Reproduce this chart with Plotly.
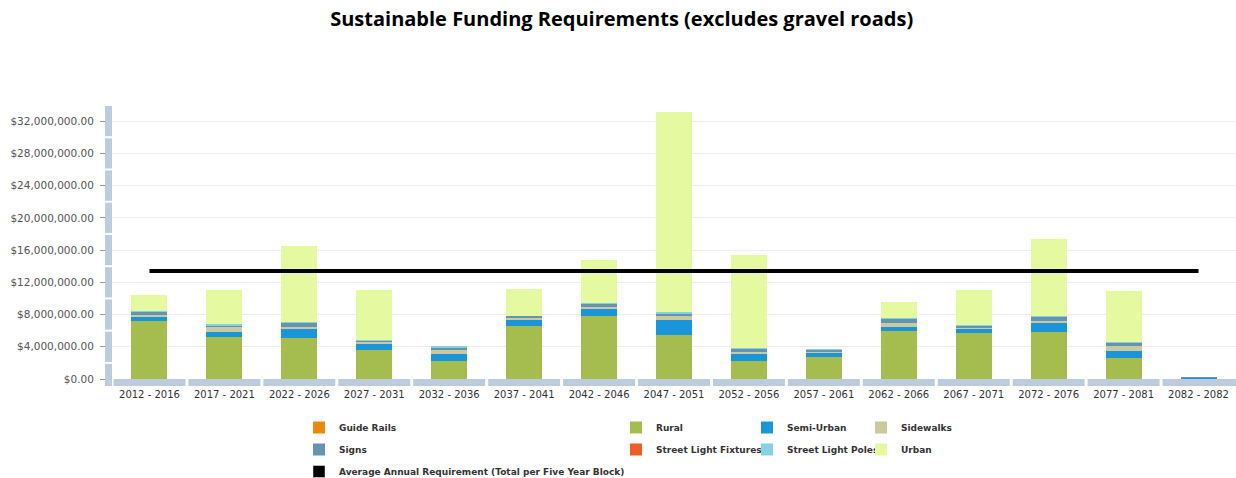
import plotly.graph_objects as go

categories = ["2012 - 2016", "2017 - 2021", "2022 - 2026", "2027 - 2031", "2032 - 2036",
              "2037 - 2041", "2042 - 2046", "2047 - 2051", "2052 - 2056", "2057 - 2061",
              "2062 - 2066", "2067 - 2071", "2072 - 2076", "2077 - 2081", "2082 - 2082"]

# values in millions of dollars
guide_rails = [0.0, 0.0, 0.0, 0.0, 0.0, 0.02, 0.0, 0.0, 0.0, 0.0, 0.02, 0.0, 0.0, 0.0, 0.0]
rural = [7.23, 5.25, 5.04, 3.60, 2.23, 6.50, 7.81, 5.46, 2.27, 2.77, 5.95, 5.66, 5.87, 2.65, 0.0]
semi_urban = [0.58, 0.58, 1.20, 0.83, 0.83, 0.91, 0.91, 1.86, 0.83, 0.50, 0.54, 0.58, 1.16, 0.83, 0.20]
sidewalks = [0.12, 0.66, 0.25, 0.20, 0.50, 0.10, 0.25, 0.62, 0.29, 0.10, 0.50, 0.17, 0.20, 0.62, 0.0]
signs = [0.41, 0.20, 0.50, 0.17, 0.41, 0.30, 0.41, 0.20, 0.41, 0.30, 0.45, 0.20, 0.50, 0.41, 0.02]
light_fixtures = [0.0, 0.0, 0.0, 0.0, 0.0, 0.0, 0.0, 0.04, 0.0, 0.0, 0.0, 0.0, 0.0, 0.0, 0.0]
light_poles = [0.08, 0.08, 0.08, 0.06, 0.03, 0.05, 0.08, 0.08, 0.08, 0.05, 0.10, 0.05, 0.10, 0.08, 0.0]
urban = [2.00, 4.30, 9.40, 6.20, 0.0, 3.35, 5.36, 24.93, 11.54, 0.0, 2.00, 4.35, 9.50, 6.27, 0.0]
average_requirement = [13.4] * len(categories)

series = [
    ("Guide Rails", guide_rails, "#E98A0C", "legend"),
    ("Rural", rural, "#A5BC4E", "legend2"),
    ("Semi-Urban", semi_urban, "#1B95D9", "legend3"),
    ("Sidewalks", sidewalks, "#CACA9E", "legend4"),
    ("Signs", signs, "#6693B0", "legend"),
    ("Street Light Fixtures", light_fixtures, "#F05E27", "legend2"),
    ("Street Light Poles", light_poles, "#86D1E4", "legend3"),
    ("Urban", urban, "#E4F9A0", "legend4"),
]

M = 1_000_000
fig = go.Figure()
for i, (name, vals, color, lg) in enumerate(series):
    fig.add_trace(go.Bar(
        x=categories, y=[v * M for v in vals], name=name,
        marker=dict(color=color, line=dict(width=0)),
        legend=lg, legendgroup="g%d" % i,
    ))

fig.add_trace(go.Scatter(
    x=categories, y=[v * M for v in average_requirement], mode="lines",
    line=dict(color="black", width=4), showlegend=False,
))
# legend-only entry with square swatch for the average line
fig.add_trace(go.Bar(
    x=[None], y=[None], name="Average Annual Requirement (Total per Five Year Block)",
    marker=dict(color="black"), legend="legend", legendgroup="avg",
))

axis_col = "#BCCCDC"
shapes = []
# white gaps on the y axis bar
for k in range(2, 35, 4):
    shapes.append(dict(type="line", xref="paper", xsizemode="pixel", xanchor=0,
                       x0=-9, x1=0, yref="y", y0=k * M, y1=k * M,
                       line=dict(color="white", width=2), layer="above"))
# white gaps on the x axis bar
for i in range(len(categories)):
    shapes.append(dict(type="line", xref="x", x0=i - 0.5, x1=i - 0.5,
                       yref="paper", ysizemode="pixel", yanchor=0, y0=-9, y1=0,
                       line=dict(color="white", width=3), layer="above"))

legend_common = dict(orientation="v", yanchor="top", xanchor="left", yref="container",
                     xref="container",
                     font=dict(family="DejaVu Sans", size=9, color="#333333", weight="bold"),
                     bgcolor="rgba(0,0,0,0)", tracegroupgap=3, traceorder="grouped",
                     itemclick=False, itemdoubleclick=False)
ly = 1 - 413 / 478
W = 1236.0
fig.update_layout(
    width=1236, height=478,
    margin=dict(l=112, r=0, t=105, b=99, autoexpand=False),
    paper_bgcolor="white", plot_bgcolor="white",
    barmode="stack", bargap=0.52,
    title=dict(text="Sustainable Funding Requirements (excludes gravel roads)",
               x=0.503, xanchor="center", xref="container", y=0.96, yanchor="middle",
               yref="container",
               font=dict(family="Open Sans", size=20, color="black", weight="bold")),
    xaxis=dict(showline=True, linecolor=axis_col, linewidth=7, showgrid=False,
               ticks="", tickfont=dict(family="DejaVu Sans", size=10, color="#333333"),
               range=[-0.5, 14.5], fixedrange=True),
    yaxis=dict(showline=True, linecolor=axis_col, linewidth=7, range=[0, 34 * M],
               tickvals=[k * M for k in range(0, 33, 4)], tickformat="$,.2f",
               showgrid=True, gridcolor="#EEEEEE", gridwidth=1, zeroline=False,
               ticks="outside", ticklen=5, tickcolor="#999999",
               ticklabelstandoff=4,
               tickfont=dict(family="DejaVu Sans", size=10.5, color="#555555"),
               fixedrange=True),
    shapes=shapes,
    showlegend=True,
    legend=dict(x=299 / W, y=ly, **legend_common),
    legend2=dict(x=616 / W, y=ly, **legend_common),
    legend3=dict(x=747 / W, y=ly, **legend_common),
    legend4=dict(x=861 / W, y=ly, **legend_common),
)

fig.write_html("out.html", config={"displayModeBar": False},
               post_script="document.body.style.margin='0';")
